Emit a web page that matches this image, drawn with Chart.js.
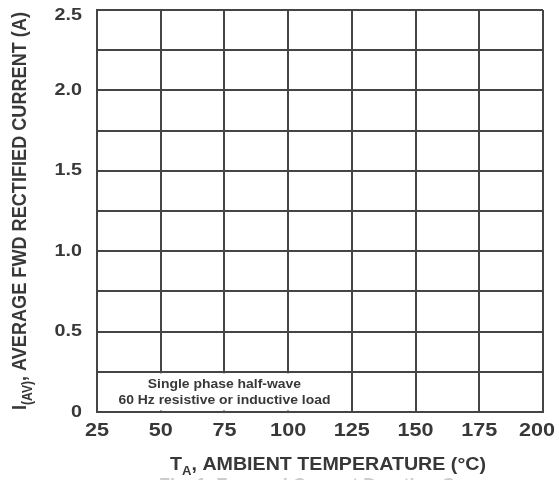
<!DOCTYPE html>
<html>
<head>
<meta charset="utf-8">
<script src="https://cdn.jsdelivr.net/npm/chart.js@4.4.1/dist/chart.umd.min.js"></script>
<style>
  html, body { margin: 0; padding: 0; background: #fff; overflow: hidden; }
  #wrap { position: relative; width: 559px; height: 480px; }
</style>
</head>
<body>
<div id="wrap"><canvas id="derating" width="559" height="480"></canvas></div>
<script>
// 軸刻度資料
const tempTicks = [25, 50, 75, 100, 125, 150, 175, 200];
const currentGrid = [0, 0.25, 0.5, 0.75, 1.0, 1.25, 1.5, 1.75, 2.0, 2.25, 2.5];
const currentTicks = [0, 0.5, 1.0, 1.5, 2.0, 2.5];
const currentTickLabels = ['0', '0.5', '1.0', '1.5', '2.0', '2.5'];

// 註解方框 (在資料座標中)
const noteX = [25, 125];
const noteY = [0, 0.25];
const noteLines = ['Single phase half-wave', '60 Hz resistive or inductive load'];

const FONT = '"Liberation Sans", Arial, sans-serif';
const INK = '#383838';
const GRID = '#454545';
const SX = 1.16; // 掃描圖的文字偏寬

// 橫向拉伸的文字
function wideText(ctx, text, x, y, font, sx, align, baseline) {
    ctx.save();
    ctx.translate(x, y);
    ctx.scale(sx, 1);
    ctx.font = font;
    ctx.textAlign = align;
    ctx.textBaseline = baseline;
    ctx.fillText(text, 0, 0);
    ctx.restore();
}

// 帶下標的標題: parts = [{t, size, dy}], 依目標寬度縮放
function drawParts(ctx, parts, fitWidth) {
    let w = 0;
    parts.forEach(p => { ctx.font = 'bold ' + p.size + 'px ' + FONT; p.w = ctx.measureText(p.t).width; w += p.w; });
    ctx.save();
    if (fitWidth) ctx.scale(fitWidth / w, 1);
    let x = -w / 2;
    parts.forEach(p => {
        ctx.font = 'bold ' + p.size + 'px ' + FONT;
        ctx.textAlign = 'left';
        ctx.textBaseline = 'alphabetic';
        ctx.fillText(p.t, x, p.dy || 0);
        x += p.w;
    });
    ctx.restore();
}

const noteBoxPlugin = {
    id: 'noteBox',
    beforeDatasetsDraw(chart) {
        const { ctx, scales: { x, y } } = chart;
        const x0 = x.getPixelForValue(noteX[0]), x1 = x.getPixelForValue(noteX[1]);
        const y0 = y.getPixelForValue(noteY[1]), y1 = y.getPixelForValue(noteY[0]);
        ctx.save();
        ctx.fillStyle = '#fff';
        ctx.fillRect(x0 + 1.5, y0 + 1.5, x1 - x0 - 3, y1 - y0 - 3);
        ctx.fillStyle = INK;
        const cx = (x0 + x1) / 2;
        ctx.font = 'bold 12px ' + FONT;
        const k = 212 / ctx.measureText(noteLines[1]).width;
        wideText(ctx, noteLines[0], cx, y0 + 13, 'bold 12px ' + FONT, k, 'center', 'middle');
        wideText(ctx, noteLines[1], cx, y0 + 29, 'bold 12px ' + FONT, k, 'center', 'middle');
        ctx.restore();
    }
};

const labelPlugin = {
    id: 'paperLabels',
    afterDraw(chart) {
        const { ctx, scales: { x, y } } = chart;
        ctx.save();
        ctx.fillStyle = INK;

        // X 軸刻度 (最右一個不要超出畫面)
        ctx.font = 'bold 18px ' + FONT;
        tempTicks.forEach(v => {
            const half = ctx.measureText(String(v)).width * 1.2 / 2;
            const px = Math.min(x.getPixelForValue(v), chart.width - 4 - half);
            wideText(ctx, String(v), px, 431, 'bold 18px ' + FONT, 1.2, 'center', 'middle');
        });
        // Y 軸刻度
        currentTicks.forEach((v, i) => {
            const py = Math.max(y.getPixelForValue(v), 15);
            wideText(ctx, currentTickLabels[i], 82, py, 'bold 17px ' + FONT, SX, 'right', 'middle');
        });

        // X 軸標題
        ctx.save();
        ctx.translate(328, 470);
        drawParts(ctx, [
            { t: 'T', size: 18 },
            { t: 'A', size: 12, dy: 5 },
            { t: ', AMBIENT TEMPERATURE (°C)', size: 18 }
        ], 316);
        ctx.restore();

        // Y 軸標題
        ctx.save();
        ctx.translate(26, 211);
        ctx.scale(1.15, 1);
        ctx.rotate(-Math.PI / 2);
        drawParts(ctx, [
            { t: 'I', size: 18 },
            { t: '(AV)', size: 12, dy: 5 },
            { t: ', AVERAGE FWD RECTIFIED CURRENT (A)', size: 18 }
        ], 398);
        ctx.restore();

        // 圖說 (底部被裁掉)
        ctx.fillStyle = '#cccccc';
        ctx.save();
        ctx.translate(326, 491);
        drawParts(ctx, [{ t: 'Fig. 1  Forward Current Derating Curve', size: 18 }], 334);
        ctx.restore();

        ctx.restore();
    }
};

const chart = new Chart(document.getElementById('derating').getContext('2d'), {
    type: 'scatter',
    data: { datasets: [] },
    options: {
        responsive: false,
        animation: false,
        layout: { padding: { top: 10, right: 16, left: 0, bottom: 0 } },
        plugins: { legend: { display: false }, tooltip: { enabled: false } },
        scales: {
            x: {
                type: 'linear',
                min: tempTicks[0],
                max: tempTicks[tempTicks.length - 1],
                afterBuildTicks: s => { s.ticks = tempTicks.map(v => ({ value: v })); },
                afterFit: s => { s.height = 68; },
                ticks: { display: false },
                grid: { color: GRID, lineWidth: 2, drawTicks: false },
                border: { color: GRID, width: 2 }
            },
            y: {
                type: 'linear',
                min: currentGrid[0],
                max: currentGrid[currentGrid.length - 1],
                afterBuildTicks: s => { s.ticks = currentGrid.map(v => ({ value: v })); },
                afterFit: s => { s.width = 97; },
                ticks: { display: false },
                grid: { color: GRID, lineWidth: 2, drawTicks: false },
                border: { color: GRID, width: 2 }
            }
        }
    },
    plugins: [noteBoxPlugin, labelPlugin]
});
</script>
</body>
</html>
